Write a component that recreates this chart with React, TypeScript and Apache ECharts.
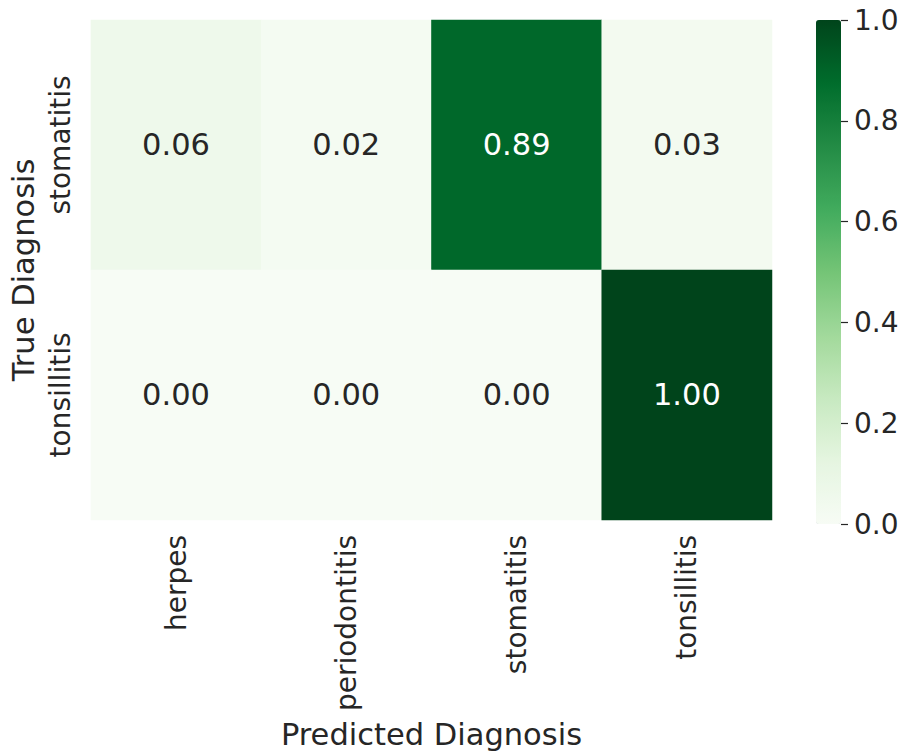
import React, { useEffect, useRef } from "react";
import * as echarts from "echarts";

const predictedLabels = ["herpes", "periodontitis", "stomatitis", "tonsillitis"];
const trueLabels = ["stomatitis", "tonsillitis"];
const stomatitisRow = [0.06, 0.02, 0.89, 0.03];
const tonsillitisRow = [0.0, 0.0, 0.0, 1.0];
const rows = [stomatitisRow, tonsillitisRow];
const colorbarMin = 0;
const colorbarMax = 1;
const colorbarStep = 0.2;
const greens = ["#f7fcf5", "#e5f5e0", "#c7e9c0", "#a1d99b", "#74c476", "#41ab5d", "#238b45", "#006d2c", "#00441b"];

const FONT = "DejaVu Sans";
const TXT = "#262626";

export default function App() {
  const ref = useRef<HTMLDivElement>(null);
  useEffect(() => {
    document.body.style.margin = "0";
    const chart = echarts.init(ref.current!, null, { renderer: "svg" });
    const data: any[] = [];
    rows.forEach((row, yi) => {
      row.forEach((v, xi) => {
        data.push({
          value: [xi, yi, v],
          label: { color: v > 0.6 ? "#ffffff" : TXT },
        });
      });
    });
    chart.setOption({
      animation: false,
      backgroundColor: "#ffffff",
      textStyle: { fontFamily: FONT },
      grid: [
        { left: 86, top: 20, width: 686, height: 504 },
        { left: 816, top: 20, width: 25, height: 504 },
      ],
      xAxis: [
        {
          type: "category",
          data: predictedLabels,
          gridIndex: 0,
          position: "bottom",
          axisLine: { show: false },
          axisTick: { show: false },
          splitLine: { show: false },
          axisLabel: { rotate: 90, fontSize: 28, color: TXT, fontFamily: FONT, margin: 15, interval: 0 },
          name: "Predicted Diagnosis",
          nameLocation: "middle",
          nameGap: 182,
          nameTextStyle: { fontSize: 30.5, color: TXT, fontFamily: FONT },
        },
        { type: "value", gridIndex: 1, show: false, min: 0, max: 1 },
      ],
      yAxis: [
        {
          type: "category",
          data: trueLabels,
          inverse: true,
          gridIndex: 0,
          axisLine: { show: false },
          axisTick: { show: false },
          splitLine: { show: false },
          axisLabel: { rotate: 90, fontSize: 28, color: TXT, fontFamily: FONT, margin: 16, interval: 0 },
          name: "True Diagnosis",
          nameLocation: "middle",
          nameRotate: 90,
          nameGap: 46,
          nameTextStyle: { fontSize: 30.5, color: TXT, fontFamily: FONT },
        },
        {
          type: "value",
          gridIndex: 1,
          position: "right",
          min: colorbarMin,
          max: colorbarMax,
          interval: colorbarStep,
          z: 10,
          axisLine: { show: false, onZero: false },
          axisTick: { show: true, inside: false, length: 7, lineStyle: { color: TXT, width: 1.2 } },
          splitLine: { show: false },
          axisLabel: {
            fontSize: 28,
            color: TXT,
            fontFamily: FONT,
            margin: 13,
            formatter: (v: number) => v.toFixed(1),
          },
        },
      ],
      visualMap: {
        type: "continuous",
        seriesIndex: 0,
        min: colorbarMin,
        max: colorbarMax,
        calculable: false,
        hoverLink: false,
        orient: "vertical",
        left: 816,
        top: 20,
        itemWidth: 25,
        itemHeight: 504,
        padding: 0,
        z: 1,
        inRange: { color: greens },
      },
      series: [
        {
          type: "heatmap",
          xAxisIndex: 0,
          yAxisIndex: 0,
          data,
          itemStyle: { borderWidth: 0 },
          label: {
            show: true,
            fontSize: 30.5,
            fontFamily: FONT,
            formatter: (p: any) => p.value[2].toFixed(2),
          },
          emphasis: { disabled: true },
        },
        { type: "scatter", xAxisIndex: 1, yAxisIndex: 1, data: [] },
      ],
    });
    return () => chart.dispose();
  }, []);
  return <div ref={ref} style={{ width: 908, height: 755 }} />;
}
